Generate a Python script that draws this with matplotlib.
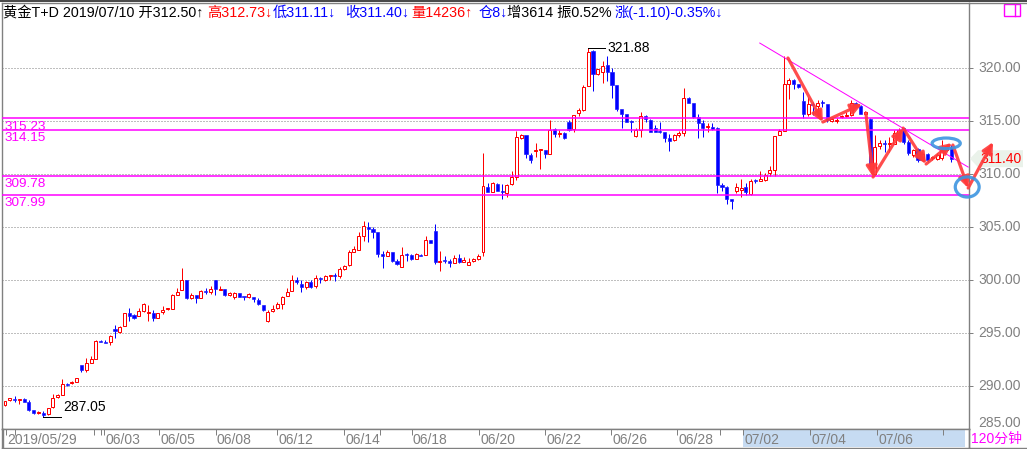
import matplotlib
matplotlib.use("Agg")
import matplotlib.pyplot as plt
import numpy as np
from matplotlib.patches import Ellipse, Polygon, Rectangle
from matplotlib.lines import Line2D
from matplotlib.transforms import blended_transform_factory

W, H = 1027, 449
PX = 0.72  # one pixel in points at dpi 100

# 120-minute bars, gold T+D, 2019/05/29 .. 2019/07/10
opens = [288.13, 288.60, 288.70, 288.62, 288.70, 288.47, 287.66, 287.40, 287.45, 287.30,
         288.00, 288.90, 289.10, 290.12, 290.20, 290.35, 291.90, 291.46, 292.15, 292.52,
         294.20, 294.10, 294.15, 295.36, 295.05, 295.60, 296.85, 296.65, 296.60, 297.05,
         296.80, 296.80, 296.40, 296.90, 297.20, 297.25, 298.50, 299.03, 299.95, 298.30,
         298.50, 298.30, 298.90, 298.80, 300.00, 299.05, 299.07, 298.57, 298.38, 298.70,
         298.40, 298.35, 298.39, 298.10, 297.63, 296.11, 297.00, 297.31, 297.69, 298.42,
         298.92, 299.97, 299.60, 299.27, 299.81, 299.37, 300.19, 299.94, 300.32, 300.36,
         300.35, 300.98, 301.36, 302.59, 302.75, 304.12, 305.00, 304.75, 304.46, 302.37,
         302.22, 302.56, 301.74, 301.20, 302.34, 302.28, 301.93, 302.34, 302.34, 303.70,
         304.56, 301.68, 301.80, 301.71, 301.55, 302.03, 301.68, 301.39, 301.77, 301.93,
         302.59, 308.71, 308.26, 309.05, 308.30, 308.17, 308.99, 309.65, 313.31, 313.63,
         311.77, 312.10, 312.20, 312.23, 311.86, 314.20, 313.76, 313.79, 314.86, 314.16,
         315.68, 315.99, 318.26, 321.58, 319.37, 319.62, 320.22, 319.59, 318.36, 316.06,
         315.62, 314.92, 313.56, 314.10, 315.43, 315.05, 314.26, 313.97, 313.94, 313.38,
         313.16, 313.63, 313.79, 317.10, 316.69, 315.30, 314.80, 314.40, 314.40, 314.26,
         308.94, 308.73, 307.55, 308.39, 308.48, 308.73, 308.08, 309.37, 309.29, 309.41,
         310.09, 310.34, 313.66, 314.03, 318.49, 318.80, 318.49, 316.82, 315.60, 316.47,
         316.35, 316.70, 316.54, 315.00, 314.97, 315.30, 315.47, 315.50, 316.67, 316.35,
         315.60, 315.19, 310.00, 312.57, 312.85, 312.80, 312.83, 313.84, 314.25, 312.99,
         311.73, 312.36, 311.32, 311.82, 311.45, 311.35, 311.42, 312.20, 312.50]
highs = [288.50, 288.80, 289.00, 288.70, 288.80, 288.60, 287.70, 287.60, 287.55, 287.85,
         289.20, 289.20, 290.60, 290.20, 290.40, 290.75, 291.90, 292.55, 292.80, 294.27,
         294.27, 294.25, 294.77, 295.73, 295.60, 296.80, 297.30, 296.75, 297.30, 297.80,
         297.60, 297.10, 296.85, 297.50, 297.30, 298.60, 299.20, 301.10, 300.00, 298.70,
         298.50, 299.00, 299.20, 299.35, 300.00, 299.35, 299.07, 298.80, 298.80, 298.72,
         298.40, 298.70, 298.39, 298.29, 297.63, 297.12, 297.60, 297.91, 298.45, 299.24,
         300.47, 300.28, 299.94, 299.87, 299.97, 300.47, 300.28, 300.38, 300.35, 300.60,
         301.14, 301.36, 302.78, 303.16, 304.46, 305.51, 305.41, 305.00, 304.53, 302.66,
         302.75, 302.56, 301.90, 303.07, 302.53, 302.37, 302.47, 302.37, 304.08, 303.70,
         305.22, 302.66, 302.18, 301.90, 302.28, 302.37, 302.09, 302.06, 302.06, 302.40,
         311.93, 309.08, 309.21, 309.12, 309.05, 309.05, 310.22, 314.01, 313.69, 313.63,
         311.96, 312.84, 312.23, 312.23, 315.05, 314.29, 314.10, 313.88, 315.05, 315.49,
         316.15, 318.36, 321.88, 321.67, 319.90, 320.66, 321.10, 319.97, 318.36, 316.06,
         315.62, 315.05, 314.32, 315.80, 315.52, 315.17, 314.57, 314.89, 313.94, 313.72,
         313.72, 314.01, 318.11, 317.22, 316.69, 315.62, 315.05, 314.73, 314.73, 314.35,
         309.10, 308.85, 307.55, 309.10, 309.50, 309.10, 309.53, 309.50, 310.25, 310.03,
         310.71, 313.51, 314.22, 321.07, 319.03, 318.96, 318.49, 317.70, 317.23, 316.76,
         316.92, 316.92, 316.54, 315.28, 315.28, 315.50, 315.82, 316.92, 316.73, 316.45,
         315.91, 315.28, 313.62, 313.21, 313.14, 313.46, 314.09, 314.25, 314.34, 313.14,
         312.36, 312.45, 311.95, 311.89, 311.70, 311.89, 313.14, 312.70, 312.73]
lows = [288.10, 288.58, 288.40, 288.30, 288.40, 287.60, 287.30, 287.30, 287.05, 287.20,
        287.90, 288.85, 289.10, 290.00, 290.10, 290.30, 291.30, 291.30, 292.15, 292.50,
        294.10, 294.00, 293.80, 294.48, 294.95, 295.60, 296.10, 296.30, 296.55, 296.98,
        296.10, 296.10, 296.38, 296.75, 297.15, 297.20, 298.50, 299.00, 298.20, 298.20,
        297.80, 298.30, 298.65, 298.65, 298.57, 299.05, 298.40, 298.40, 298.15, 298.38,
        298.10, 298.30, 297.85, 297.63, 296.99, 296.00, 296.90, 297.18, 297.18, 298.42,
        298.92, 299.60, 298.80, 299.15, 299.18, 299.18, 299.65, 299.84, 300.00, 299.84,
        300.16, 300.92, 301.30, 302.59, 302.75, 303.64, 303.54, 303.89, 302.12, 301.08,
        302.22, 301.65, 301.33, 301.17, 301.74, 301.80, 301.90, 302.20, 302.31, 303.45,
        301.42, 300.79, 301.58, 301.17, 301.55, 301.55, 301.61, 301.36, 301.68, 301.80,
        302.18, 308.23, 308.26, 308.36, 307.57, 307.79, 308.93, 309.43, 313.25, 311.45,
        311.01, 311.58, 310.41, 311.45, 311.86, 313.41, 313.47, 313.28, 314.01, 313.91,
        315.43, 315.93, 318.26, 317.82, 319.30, 318.58, 318.77, 317.16, 315.93, 314.32,
        314.83, 313.94, 313.47, 313.47, 314.83, 313.94, 313.88, 313.85, 312.97, 312.11,
        313.06, 313.47, 313.56, 316.62, 315.20, 313.38, 313.47, 313.94, 314.10, 308.17,
        308.39, 307.17, 306.61, 308.17, 307.76, 308.01, 307.95, 309.10, 309.26, 309.32,
        309.72, 309.72, 313.60, 314.03, 317.01, 318.02, 318.11, 315.28, 315.41, 315.50,
        315.41, 316.29, 314.87, 314.87, 314.81, 315.28, 315.34, 315.41, 316.29, 315.57,
        315.50, 310.63, 309.84, 312.36, 312.04, 312.04, 312.77, 313.62, 312.83, 311.79,
        311.57, 311.10, 311.20, 311.10, 311.30, 311.32, 311.32, 312.10, 311.11]
closes = [288.50, 288.78, 288.62, 288.68, 288.48, 287.73, 287.41, 287.46, 287.20, 287.85,
          288.79, 289.10, 290.12, 290.05, 290.30, 290.75, 291.43, 292.10, 292.46, 294.17,
          294.15, 294.05, 294.67, 295.10, 295.50, 296.80, 296.60, 296.40, 297.05, 297.66,
          296.85, 296.40, 296.80, 297.15, 297.25, 298.50, 298.80, 300.00, 298.30, 298.50,
          298.30, 298.95, 298.85, 299.15, 299.07, 299.10, 298.57, 298.72, 298.72, 298.38,
          298.35, 298.65, 298.13, 297.72, 297.15, 296.93, 297.25, 297.66, 298.39, 298.86,
          299.97, 299.72, 299.27, 299.81, 299.34, 300.19, 300.03, 300.32, 300.35, 300.33,
          301.04, 301.30, 302.56, 302.85, 304.15, 305.09, 304.78, 304.49, 302.44, 302.22,
          302.56, 301.71, 301.49, 302.34, 302.28, 301.90, 302.40, 302.25, 303.70, 303.45,
          301.65, 301.71, 301.74, 301.55, 302.03, 301.61, 301.80, 301.61, 301.93, 302.18,
          308.83, 308.26, 309.12, 308.36, 308.26, 308.96, 309.65, 313.44, 313.63, 311.86,
          311.32, 312.14, 312.23, 311.86, 314.10, 313.72, 313.79, 313.38, 314.10, 315.49,
          315.99, 318.14, 321.51, 319.37, 319.84, 320.16, 319.62, 318.36, 316.12, 315.65,
          314.89, 314.89, 314.10, 315.40, 315.17, 313.94, 313.94, 313.94, 313.38, 313.09,
          313.63, 313.82, 317.10, 316.69, 315.36, 314.80, 314.26, 314.45, 314.20, 308.90,
          308.73, 307.61, 307.39, 308.70, 308.60, 308.23, 309.32, 309.33, 309.53, 309.84,
          310.37, 313.51, 314.00, 318.49, 318.87, 318.49, 318.18, 315.66, 316.54, 316.45,
          316.67, 316.67, 315.03, 315.10, 315.03, 315.35, 315.50, 316.67, 316.45, 315.66,
          315.82, 310.88, 312.52, 312.89, 312.82, 312.85, 313.84, 314.09, 312.99, 311.89,
          312.20, 311.26, 311.82, 311.26, 311.50, 311.73, 312.20, 312.45, 311.40]

level_values = [315.23, 314.15, 309.78, 307.99]
grid_levels = [320, 315, 310, 305, 300, 295, 290]
price_ticks = [320, 315, 310, 305, 300, 295, 290]
bottom_tick = 285

date_labels = ["2019/05/29", "06/03", "06/05", "06/08", "06/12", "06/14", "06/18",
               "06/20", "06/22", "06/26", "06/28", "07/02", "07/04", "07/06"]
date_pos = [0.2, 20.7, 32.2, 44.1, 56.9, 70.9, 85.1, 99.2, 113.0, 126.8, 140.6,
            154.4, 168.4, 182.4]
minor_date_pos = [2.0, 18.7, 20.0, 78.5, 149.6, 196.2]

# hand-drawn analysis marks (bar index, price)
trend_x = [157.9, 201.5]
trend_y = [322.31, 310.61]
arrow_segments = [((163.8, 320.90), (171.1, 314.86)),
                  ((171.1, 314.86), (179.3, 316.56)),
                  ((180.1, 315.71), (181.6, 309.67)),
                  ((181.6, 309.67), (187.9, 314.29)),
                  ((187.9, 314.29), (192.7, 310.90)),
                  ((192.7, 310.90), (198.1, 312.88)),
                  ((198.3, 312.69), (201.5, 308.63)),
                  ((201.5, 308.63), (206.7, 312.97))]
ellipses = [(196.9, 312.85, 5.9, 1.0), (201.3, 308.73, 5.0, 1.9)]

title_parts = [("黄金T+D 2019/07/10 开312.50↑", "black", 3),
               ("高312.73↓", "#ff0000", 206.7),
               ("低311.11↓", "#0000ff", 273),
               ("收311.40↓", "#0000ff", 345),
               ("量14236↑", "#ff0000", 411.7),
               ("仓8↓", "#0000ff", 478.3),
               ("增3614 振0.52%", "black", 507.3),
               ("涨(-1.10)-0.35%↓", "#0000ff", 615)]
last_close = closes[-1]

RED, BLUE, MAG, GRAY = "#ff0000", "#0000ff", "#ff00ff", "#808080"
plt.rcParams["font.family"] = ["Liberation Sans", "Noto Sans CJK SC", "DejaVu Sans"]
FS = 10

# pixel layout
left_px, right_px, top_px, bottom_px, strip_px = 1.5, 969.0, 3.3, 429.3, 448.0
x0_px, step_px = 5.0, 4.78
xlim = ((left_px - x0_px) / step_px, (right_px - x0_px) / step_px)
ylim = (285.87, 326.06)

fig = plt.figure(figsize=(W / 100, H / 100), dpi=100)
fig.patch.set_facecolor("white")

ax = fig.add_axes([left_px / W, 1 - bottom_px / H, (right_px - left_px) / W,
                   (bottom_px - top_px) / H])
ax.set_facecolor("white")
rtr = blended_transform_factory(ax.transAxes, ax.transData)

x = np.arange(len(opens))
o, h, l, c = map(np.array, (opens, highs, lows, closes))
up = c >= o
body_lo = np.minimum(o, c)
body_hi = np.maximum(o, c)
body_h = np.maximum(body_hi - body_lo, 0.09)
cols = np.where(up, RED, BLUE)

ax.hlines(grid_levels, xlim[0], xlim[1], colors=GRAY, linewidth=PX,
          linestyles=(0, (1, 2)), zorder=1)
ax.vlines(x, body_hi, h, colors=cols, linewidth=PX, zorder=2)
ax.vlines(x, l, body_lo, colors=cols, linewidth=PX, zorder=2)
ax.bar(x[up], body_h[up], bottom=body_lo[up], width=0.62, facecolor="white",
       edgecolor=RED, linewidth=PX, zorder=3)
ax.bar(x[~up], body_h[~up], bottom=body_lo[~up], width=0.66, color=BLUE,
       edgecolor=BLUE, linewidth=0.4, zorder=3)

ax.hlines(level_values, xlim[0], xlim[1], colors=MAG, linewidth=1.1, zorder=4)
for v in level_values:
    ax.annotate(f"{v:.2f}", xy=(xlim[0], v), xytext=(2.5, -1.8),
                textcoords="offset points", va="top", ha="left",
                color=MAG, fontsize=FS - 0.3, zorder=5)

# highest / lowest marks
i_hi = int(np.argmax(h))
i_lo = int(np.argmin(l))
ax.plot([i_hi, i_hi + 3.6], [h[i_hi], h[i_hi]], color="black", lw=PX, zorder=5)
ax.text(i_hi + 4.1, h[i_hi], f"{h[i_hi]:.2f}", va="center", ha="left",
        color="black", fontsize=FS, zorder=5)
ax.plot([i_lo, i_lo + 3.7], [l[i_lo], l[i_lo]], color="black", lw=PX, zorder=5)
ax.annotate(f"{l[i_lo]:.2f}", xy=(i_lo + 4.1, l[i_lo]), xytext=(0, 2.3),
            textcoords="offset points", va="bottom", ha="left",
            color="black", fontsize=FS, zorder=5)

# right price labels (inside ax so the marks can run over them)
ax.add_patch(Polygon([(1.001, last_close), (1.0093, last_close + 0.8),
                      (1.0558, last_close + 0.8), (1.0558, last_close - 0.8),
                      (1.0093, last_close - 0.8)], closed=True,
                     facecolor="#eaf2ea", edgecolor="none", transform=rtr,
                     zorder=5, clip_on=False))
for p in price_ticks:
    ax.annotate(f"{p:.2f}", xy=(1, p), xycoords=("axes fraction", "data"),
                xytext=(6.5, 0), textcoords="offset points", va="center",
                ha="left", color=GRAY, fontsize=FS, annotation_clip=False)
ax.annotate(f"{bottom_tick:.2f}", xy=(1, ylim[0]), xycoords=("axes fraction", "data"),
            xytext=(6.5, 4.3), textcoords="offset points", va="center",
            ha="left", color=GRAY, fontsize=FS, annotation_clip=False)
ax.annotate(f"{last_close:.2f}", xy=(1, last_close), xycoords=("axes fraction", "data"),
            xytext=(8.5, 0), textcoords="offset points", va="center",
            ha="left", color=RED, fontsize=FS, annotation_clip=False, zorder=6)

# analysis marks
ax.plot(trend_x, trend_y, color=MAG, lw=PX, zorder=6, clip_on=False)
for (xa, ya), (xb, yb) in arrow_segments:
    ax.annotate("", xy=(xb, yb), xytext=(xa, ya), annotation_clip=False,
                arrowprops=dict(arrowstyle="-|>", color="#ff3a3a", lw=2.3,
                                mutation_scale=16, shrinkA=0, shrinkB=0,
                                alpha=0.9),
                zorder=7)
for ex, ey, ew, eh in ellipses:
    ax.add_patch(Ellipse((ex, ey), ew, eh, fill=False, edgecolor="#3d95e0",
                         lw=2.3, alpha=0.9, zorder=8, clip_on=False))

ax.set_xlim(*xlim)
ax.set_ylim(*ylim)
ax.set_xticks([])
ax.set_yticks(price_ticks)
ax.yaxis.tick_right()
ax.tick_params(axis="y", direction="out", length=3, width=PX, color=GRAY,
               labelright=False, labelleft=False)
for s in ax.spines.values():
    s.set_color(GRAY)
    s.set_linewidth(1.0)

# date strip
dax = fig.add_axes([left_px / W, 1 - strip_px / H, (right_px - left_px) / W,
                    (strip_px - bottom_px) / H])
dax.set_xlim(*xlim)
dax.set_ylim(0, 1)
dax.set_xticks([])
dax.set_yticks([])
for s in dax.spines.values():
    s.set_color(GRAY)
    s.set_linewidth(1.0)
dax.add_patch(Rectangle((154.4, 0.08), 200.8 - 154.4, 0.86,
                        facecolor="#c6dbf2", edgecolor="none", zorder=0))
dax.vlines(date_pos + minor_date_pos, 0.68, 1.0, colors=GRAY, linewidth=PX)
for lab, pos in zip(date_labels, date_pos):
    dax.text(pos + 0.25, 0.45, lab, va="center", ha="left", color=GRAY,
             fontsize=FS)
fig.add_artist(Line2D([3 / W, 3 / W], [1 - strip_px / H, 1 - bottom_px / H],
                      color=GRAY, lw=1.0))

fig.text(971 / W, 1 - 439 / H, "120分钟", color=MAG, fontsize=FS,
         va="center", ha="left")
fig.add_artist(Line2D([right_px / W, right_px / W], [1 - strip_px / H, 1 - bottom_px / H],
                      color=GRAY, lw=1.0))
fig.add_artist(Line2D([right_px / W, 1], [1 - strip_px / H, 1 - strip_px / H],
                      color=GRAY, lw=1.0))

# top bar and title
fig.add_artist(Rectangle((0, 1 - 2 / H), 1, 2 / H, transform=fig.transFigure,
                         facecolor="#4a4a4a", edgecolor="none"))
fig.add_artist(Line2D([right_px / W, 1], [1 - top_px / H, 1 - top_px / H],
                      color=GRAY, lw=1.0))
fig.add_artist(Rectangle((1004 / W, 1 - 16 / H), 16 / W, 12 / H,
                         transform=fig.transFigure, fill=False,
                         edgecolor=MAG, lw=1.0))
fig.add_artist(Line2D([1015 / W, 1015 / W], [1 - 16 / H, 1 - 4 / H],
                      color=MAG, lw=1.0))
for txt, col, xp in title_parts:
    fig.text(xp / W, 1 - 12.5 / H, txt, color=col, fontsize=FS + 0.3,
             va="center", ha="left")

fig.savefig("out.png", dpi=100)
plt.close(fig)
